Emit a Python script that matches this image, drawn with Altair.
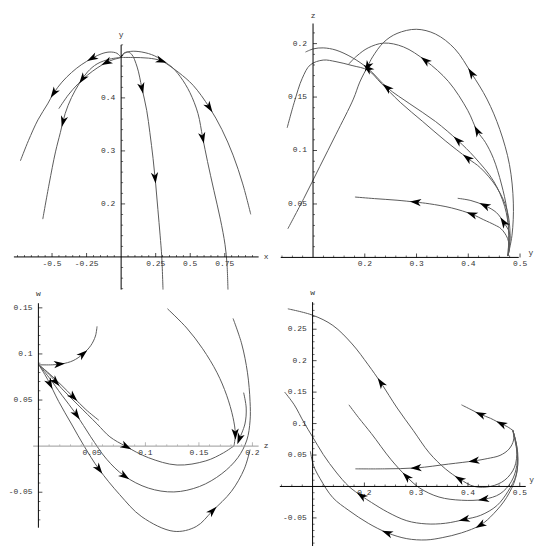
import math
import altair as alt
import pandas as pd

# ---------------- Panel 1 : x (horizontal) vs y (vertical) ----------------
p1_c1_x = [0, -0.030, -0.081, -0.139, -0.208, -0.289, -0.359, -0.428, -0.486, -0.532, -0.602, -0.671, -0.729]
p1_c1_y = [0.4762, 0.4841, 0.4865, 0.4835, 0.4750, 0.4623, 0.4478, 0.4297, 0.4098, 0.3886, 0.3585, 0.3192, 0.2812]
p1_c1_arrows = [4, 8]
p1_c2_x = [0, -0.081, -0.174, -0.243, -0.301, -0.359, -0.405, -0.440, -0.475, -0.521, -0.567]
p1_c2_y = [0.4762, 0.4732, 0.4641, 0.4490, 0.4279, 0.4007, 0.3705, 0.3343, 0.2981, 0.2377, 0.1713]
p1_c2_arrows = [3.6, 6.4]
p1_c3_x = [0, -0.058, -0.104, -0.174, -0.243, -0.313, -0.382, -0.451]
p1_c3_y = [0.4762, 0.4720, 0.4671, 0.4563, 0.4430, 0.4261, 0.4056, 0.3796]
p1_c3_arrows = [2]
p1_c4_x = [0, 0.016, 0.046, 0.076, 0.116, 0.150, 0.185, 0.208, 0.231, 0.250, 0.266, 0.282, 0.294, 0.303]
p1_c4_y = [0.4762, 0.4835, 0.4865, 0.4822, 0.4581, 0.4188, 0.3766, 0.3343, 0.2860, 0.2377, 0.1894, 0.1411, 0.1, 0.0384]
p1_c4_arrows = [5, 8.75]
p1_c5_x = [0, 0.081, 0.197, 0.289, 0.359, 0.428, 0.498, 0.556, 0.590, 0.625, 0.671, 0.718, 0.752, 0.766, 0.773]
p1_c5_y = [0.4762, 0.4762, 0.4750, 0.4702, 0.4599, 0.4400, 0.4098, 0.3705, 0.3252, 0.2800, 0.2256, 0.1713, 0.1229, 0.0867, 0.0384]
p1_c5_arrows = [3, 8]
p1_c6_x = [0, 0.023, 0.069, 0.150, 0.243, 0.324, 0.417, 0.521, 0.637, 0.729, 0.810, 0.880, 0.938]
p1_c6_y = [0.4762, 0.4841, 0.4877, 0.4865, 0.4792, 0.4653, 0.4478, 0.4237, 0.3826, 0.3403, 0.2920, 0.2377, 0.1803]
p1_c6_arrows = [8]
p1_xticks = [-0.5, -0.25, 0.25, 0.5, 0.75]
p1_xlabels = ["-0.5", "-0.25", "0.25", "0.5", "0.75"]
p1_yticks = [0.2, 0.3, 0.4]
p1_ylabels = ["0.2", "0.3", "0.4"]

# ---------------- Panel 2 : y (horizontal) vs z (vertical) ----------------
p2_c1_x = [0.4765, 0.4845, 0.4871, 0.4796, 0.4609, 0.4361, 0.4063, 0.3740, 0.3368, 0.2995, 0.2623, 0.2369, 0.2151, 0.2058, 0.1903, 0.1779, 0.1444, 0.1133, 0.0823, 0.0513]
p2_c1_y = [0.0013, 0.0208, 0.0508, 0.0867, 0.1197, 0.1481, 0.1721, 0.1951, 0.2089, 0.2134, 0.2095, 0.2014, 0.1876, 0.1789, 0.1640, 0.1481, 0.1152, 0.0852, 0.0553, 0.0268]
p2_c1_arrows = [6, 13]
p2_c2_x = [0.4765, 0.4783, 0.4746, 0.4640, 0.4485, 0.4330, 0.4175, 0.3989, 0.3616, 0.3175, 0.2747, 0.2369, 0.2065, 0.1847, 0.1692]
p2_c2_y = [0.0013, 0.0208, 0.0448, 0.0687, 0.0927, 0.1077, 0.1181, 0.1376, 0.1646, 0.1840, 0.1969, 0.2005, 0.1960, 0.1885, 0.1810]
p2_c2_arrows = [6, 9]
p2_c3_x = [0.4765, 0.4783, 0.4703, 0.4485, 0.4113, 0.3803, 0.3368, 0.2872, 0.2437, 0.2065, 0.1754, 0.1444, 0.1196, 0.1009, 0.0854]
p2_c3_y = [0.0013, 0.0238, 0.0478, 0.0717, 0.0942, 0.1092, 0.1271, 0.1436, 0.1586, 0.1766, 0.1870, 0.1939, 0.1960, 0.1951, 0.1921]
p2_c3_arrows = [5, 8, 9]
p2_c4_x = [0.4765, 0.4808, 0.4746, 0.4547, 0.4237, 0.3989, 0.3554, 0.3120, 0.2685, 0.2313, 0.2065, 0.1754, 0.1444, 0.1196, 0.0947, 0.0792, 0.0637, 0.0500]
p2_c4_y = [0.0013, 0.0208, 0.0448, 0.0657, 0.0837, 0.0927, 0.1092, 0.1271, 0.1451, 0.1631, 0.1750, 0.1795, 0.1831, 0.1846, 0.1801, 0.1676, 0.1451, 0.1212]
p2_c4_arrows = [5]
p2_c5_x = [0.4765, 0.4790, 0.4759, 0.4634, 0.4510, 0.4299, 0.4076, 0.3678, 0.3244, 0.2989, 0.2623, 0.2189, 0.1810]
p2_c5_y = [0.0013, 0.0073, 0.0178, 0.0268, 0.0304, 0.0352, 0.0403, 0.0463, 0.0502, 0.0517, 0.0535, 0.0550, 0.0565]
p2_c5_arrows = [6, 9]
p2_c6_x = [0.4765, 0.4802, 0.4790, 0.4684, 0.4547, 0.4324, 0.4051, 0.3796]
p2_c6_y = [0.0013, 0.0133, 0.0238, 0.0328, 0.0418, 0.0484, 0.0532, 0.0553]
p2_c6_arrows = [3, 5]
p2_xticks = [0.2, 0.3, 0.4, 0.5]
p2_xlabels = ["0.2", "0.3", "0.4", "0.5"]
p2_yticks = [0.05, 0.1, 0.15, 0.2]
p2_ylabels = ["0.05", "0.1", "0.15", "0.2"]

# ---------------- Panel 3 : z (horizontal) vs w (vertical) ----------------
p3_c1_x = [0.0004, 0.0130, 0.0220, 0.0324, 0.0414, 0.0489, 0.0533, 0.0548]
p3_c1_y = [0.0882, 0.0882, 0.0892, 0.0927, 0.0997, 0.1090, 0.1194, 0.1299]
p3_c1_arrows = [1.7, 4]
p3_c2_x = [0.0004, 0.0100, 0.0220, 0.0324, 0.0444, 0.0564]
p3_c2_y = [0.0882, 0.0788, 0.0656, 0.0535, 0.0396, 0.0281]
p3_c2_arrows = [3]
p3_c3_x = [0.0004, 0.0100, 0.0220, 0.0369, 0.0549, 0.0668, 0.0818, 0.1027, 0.1296, 0.1565, 0.1729, 0.1828]
p3_c3_y = [0.0882, 0.0778, 0.0622, 0.0448, 0.0240, 0.0101, -0.0003, -0.0125, -0.0205, -0.0160, -0.0073, 0.0003]
p3_c3_arrows = [1.5, 6]
p3_c4_x = [0.0004, 0.0100, 0.0220, 0.0354, 0.0489, 0.0638, 0.0803, 0.1027, 0.1266, 0.1505, 0.1714, 0.1864, 0.1948, 0.1978, 0.1978, 0.1954, 0.1900, 0.1819]
p3_c4_y = [0.0882, 0.0743, 0.0552, 0.0344, 0.0101, -0.0142, -0.0323, -0.0455, -0.0497, -0.0438, -0.0299, -0.0125, 0.0066, 0.0274, 0.0483, 0.0795, 0.1108, 0.1385]
p3_c4_arrows = [3, 6]
p3_c5_x = [0.0004, 0.0085, 0.0190, 0.0309, 0.0429, 0.0564, 0.0758, 0.0967, 0.1266, 0.1475, 0.1625, 0.1804, 0.1924, 0.1978]
p3_c5_y = [0.0882, 0.0726, 0.0483, 0.0240, -0.0003, -0.0247, -0.0524, -0.0767, -0.0924, -0.0872, -0.0705, -0.0490, -0.0247, -0.0038]
p3_c5_arrows = [1.2, 5, 10]
p3_c6_x = [0.1206, 0.1386, 0.1535, 0.1670, 0.1759, 0.1819, 0.1840, 0.1828]
p3_c6_y = [0.1490, 0.1281, 0.1056, 0.0795, 0.0552, 0.0309, 0.0135, 0.0003]
p3_c6_arrows = [6]
p3_c7_x = [0.1918, 0.1942, 0.1930, 0.1879]
p3_c7_y = [0.0580, 0.0413, 0.0240, 0.0083]
p3_c7_arrows = [3]
p3_xticks = [0.05, 0.1, 0.15, 0.2]
p3_xlabels = ["0.05", "0.1", "0.15", "0.2"]
p3_yticks = [-0.05, 0.05, 0.1, 0.15]
p3_ylabels = ["-0.05", "0.05", "0.1", "0.15"]

# ---------------- Panel 4 : y (horizontal) vs w (vertical) ----------------
p4_c1_x = [0.4867, 0.4756, 0.4650, 0.4433, 0.4246, 0.4060, 0.3874]
p4_c1_y = [0.0891, 0.0952, 0.0992, 0.1084, 0.1145, 0.1221, 0.1298]
p4_c1_arrows = [2, 4]
p4_c2_x = [0.4867, 0.4880, 0.4793, 0.4619, 0.4371, 0.4122, 0.3626, 0.3005, 0.2384, 0.1826]
p4_c2_y = [0.0891, 0.0738, 0.0595, 0.0494, 0.0443, 0.0407, 0.0356, 0.0295, 0.0280, 0.0280]
p4_c2_arrows = [5, 7]
p4_c3_x = [0.4867, 0.4942, 0.4942, 0.4836, 0.4619, 0.4309, 0.3874, 0.3440, 0.3067, 0.2819, 0.2508, 0.2136, 0.1888, 0.1701]
p4_c3_y = [0.0891, 0.0636, 0.0331, 0.0076, -0.0117, -0.0204, -0.0219, -0.0168, -0.0025, 0.0153, 0.0433, 0.0840, 0.1094, 0.1298]
p4_c3_arrows = [5, 9]
p4_c4_x = [0.4867, 0.4942, 0.4898, 0.4712, 0.4433, 0.4122, 0.3843, 0.3564, 0.3253, 0.2943, 0.2633, 0.2322, 0.2074, 0.1764, 0.1391, 0.1000, 0.0522]
p4_c4_y = [0.0891, 0.0585, 0.0305, 0.0102, 0.0000, 0.0000, 0.0117, 0.0280, 0.0534, 0.0891, 0.1247, 0.1644, 0.1934, 0.2265, 0.2560, 0.2723, 0.2824]
p4_c4_arrows = [6, 11]
p4_c5_x = [0.4867, 0.4960, 0.4929, 0.4774, 0.4557, 0.4246, 0.3936, 0.3564, 0.3191, 0.2819, 0.2446, 0.2136, 0.1950, 0.1701, 0.1453, 0.1205, 0.1000, 0.0832, 0.0646, 0.0460]
p4_c5_y = [0.0891, 0.0534, 0.0178, -0.0076, -0.0305, -0.0458, -0.0524, -0.0585, -0.0595, -0.0545, -0.0407, -0.0254, -0.0153, 0.0000, 0.0229, 0.0509, 0.0789, 0.1018, 0.1298, 0.1501]
p4_c5_arrows = [6, 12]
p4_c6_x = [0.4867, 0.4960, 0.4917, 0.4743, 0.4495, 0.4246, 0.3874, 0.3502, 0.3191, 0.2819, 0.2446, 0.2074, 0.1701, 0.1391, 0.1143, 0.1019, 0.0957]
p4_c6_y = [0.0891, 0.0433, 0.0127, -0.0178, -0.0433, -0.0611, -0.0738, -0.0814, -0.0850, -0.0830, -0.0738, -0.0585, -0.0382, -0.0178, 0.0127, 0.0331, 0.0560]
p4_c6_arrows = [5, 10]
p4_xticks = [0.2, 0.3, 0.4, 0.5]
p4_xlabels = ["0.2", "0.3", "0.4", "0.5"]
p4_yticks = [-0.05, 0.05, 0.1, 0.15, 0.2, 0.25]
p4_ylabels = ["-0.05", "0.05", "0.1", "0.15", "0.2", "0.25"]

# ---------------- layout ----------------
W_L, W_R, H_T, H_B = 264, 265, 272, 270
FONT = "Liberation Mono"
LINE = "#5a5a5a"
ARROW_PATH = "M0,-1L0.6,0.85L0,0.35L-0.6,0.85Z"


def curves_frame(curves):
    rows = []
    for name, xs, ys, _ in curves:
        for i, (a, b) in enumerate(zip(xs, ys)):
            rows.append({"curve": name, "i": i, "x": a, "y": b})
    return pd.DataFrame(rows)


def arrows_frame(curves, dx_dom, dy_dom, W, H):
    kx = W / (dx_dom[1] - dx_dom[0])
    ky = H / (dy_dom[1] - dy_dom[0])
    rows = []
    for name, xs, ys, marks in curves:
        n = len(xs)
        for f in marks:
            i0 = int(math.floor(f))
            t = f - i0
            if i0 >= n - 1:
                i0, t = n - 2, 1.0
            px = xs[i0] + t * (xs[i0 + 1] - xs[i0])
            py = ys[i0] + t * (ys[i0 + 1] - ys[i0])
            if t == 0 and i0 > 0:
                dx, dy = xs[i0 + 1] - xs[i0 - 1], ys[i0 + 1] - ys[i0 - 1]
            else:
                dx, dy = xs[i0 + 1] - xs[i0], ys[i0 + 1] - ys[i0]
            ang = math.degrees(math.atan2(dx * kx, dy * ky)) % 360
            rows.append({"x": px, "y": py, "angle": ang})
    return pd.DataFrame(rows)


def frange(a, b, step):
    out = []
    k = 0
    while a + k * step <= b + 1e-9:
        out.append(round(a + k * step, 6))
        k += 1
    return out


def panel(curves, dom_x, dom_y, W, H, hx, hy, vx, vy, xt, xl, yt, yl,
          xminor, yminor, names, hcolor="black", vcolor="black"):
    sx = alt.Scale(domain=dom_x, nice=False, zero=False)
    sy = alt.Scale(domain=dom_y, nice=False, zero=False)

    def X(f):
        return alt.X(f, type="quantitative", scale=sx, axis=None)

    def Y(f):
        return alt.Y(f, type="quantitative", scale=sy, axis=None)

    lines = alt.Chart(curves_frame(curves)).mark_line(
        interpolate="catmull-rom", strokeWidth=1, color=LINE
    ).encode(x=X("x"), y=Y("y"), detail="curve:N", order="i:Q")

    arrows = alt.Chart(arrows_frame(curves, dom_x, dom_y, W, H)).mark_point(
        shape=ARROW_PATH, filled=True, size=150,
        color="black", opacity=1, strokeWidth=0
    ).encode(x=X("x"), y=Y("y"), angle=alt.Angle("angle:Q", scale=None))

    haxis = alt.Chart(pd.DataFrame([{"x": hx[0], "x2": hx[1], "y": hy}])).mark_rule(
        color=hcolor, strokeWidth=1).encode(x=X("x"), x2="x2:Q", y=Y("y"))
    vaxis = alt.Chart(pd.DataFrame([{"x": vx, "y": vy[0], "y2": vy[1]}])).mark_rule(
        color=vcolor, strokeWidth=1).encode(x=X("x"), y=Y("y"), y2="y2:Q")

    xmaj = pd.DataFrame({"v": xt, "pos": hy, "label": xl})
    ymaj = pd.DataFrame({"v": yt, "pos": vx, "label": yl})
    xmin_df = pd.DataFrame({"v": [v for v in xminor if all(abs(v - m) > 1e-6 for m in xt + [vx])], "pos": hy})
    ymin_df = pd.DataFrame({"v": [v for v in yminor if all(abs(v - m) > 1e-6 for m in yt + [hy])], "pos": vx})

    xticks = alt.Chart(xmaj).mark_tick(orient="vertical", size=4, thickness=1, yOffset=-2,
                                       color=hcolor).encode(x=X("v"), y=Y("pos"))
    yticks = alt.Chart(ymaj).mark_tick(orient="horizontal", size=4, thickness=1, xOffset=2,
                                       color=vcolor).encode(x=X("pos"), y=Y("v"))
    xmticks = alt.Chart(xmin_df).mark_tick(orient="vertical", size=2, thickness=0.8, yOffset=-1,
                                           color=hcolor).encode(x=X("v"), y=Y("pos"))
    ymticks = alt.Chart(ymin_df).mark_tick(orient="horizontal", size=2, thickness=0.8, xOffset=1,
                                           color=vcolor).encode(x=X("pos"), y=Y("v"))
    xlab = alt.Chart(xmaj).mark_text(font=FONT, fontSize=8, dy=7, align="center", baseline="middle",
                                     color="#333").encode(x=X("v"), y=Y("pos"), text="label:N")
    ylab = alt.Chart(ymaj).mark_text(font=FONT, fontSize=8, dx=-6, align="right", baseline="middle",
                                     color="#333").encode(x=X("pos"), y=Y("v"), text="label:N")
    name_df = pd.DataFrame(names, columns=["x", "y", "t"])
    nlab = alt.Chart(name_df).mark_text(font=FONT, fontSize=8, align="center", baseline="middle",
                                        color="#333").encode(x=X("x"), y=Y("y"), text="t:N")
    return alt.layer(lines, haxis, vaxis, xmticks, ymticks, xticks, yticks, xlab, ylab, nlab,
                     arrows).properties(width=W, height=H)


p1 = panel(
    [("a", p1_c1_x, p1_c1_y, p1_c1_arrows), ("b", p1_c2_x, p1_c2_y, p1_c2_arrows),
     ("c", p1_c3_x, p1_c3_y, p1_c3_arrows), ("d", p1_c4_x, p1_c4_y, p1_c4_arrows),
     ("e", p1_c5_x, p1_c5_y, p1_c5_arrows), ("f", p1_c6_x, p1_c6_y, p1_c6_arrows)],
    [-0.7757, 1.1132], [0.0565, 0.5638], W_L, H_T,
    hx=[-0.776, 0.995], hy=0.1, vx=0.0, vy=[0.0384, 0.5],
    xt=p1_xticks, xl=p1_xlabels, yt=p1_yticks, yl=p1_ylabels,
    xminor=frange(-0.75, 0.95, 0.05), yminor=frange(0.04, 0.5, 0.02),
    names=[(1.05, 0.1, "x"), (0.0, 0.518, "y")])

p2 = panel(
    [("a", p2_c1_x, p2_c1_y, p2_c1_arrows), ("b", p2_c2_x, p2_c2_y, p2_c2_arrows),
     ("c", p2_c3_x, p2_c3_y, p2_c3_arrows), ("d", p2_c4_x, p2_c4_y, p2_c4_arrows),
     ("e", p2_c5_x, p2_c5_y, p2_c5_arrows), ("f", p2_c6_x, p2_c6_y, p2_c6_arrows)],
    [0.02644, 0.5328], [-0.02111, 0.23046], W_R, H_T,
    hx=[0.0376, 0.4976], hy=0.0, vx=0.1, vy=[0.0, 0.2188],
    xt=p2_xticks, xl=p2_xlabels, yt=p2_yticks, yl=p2_ylabels,
    xminor=frange(0.04, 0.5, 0.02), yminor=frange(0.01, 0.21, 0.01),
    names=[(0.521, 0.004, "y"), (0.1, 0.226, "z")])

p3 = panel(
    [("a", p3_c1_x, p3_c1_y, p3_c1_arrows), ("b", p3_c2_x, p3_c2_y, p3_c2_arrows),
     ("c", p3_c3_x, p3_c3_y, p3_c3_arrows), ("d", p3_c4_x, p3_c4_y, p3_c4_arrows),
     ("e", p3_c5_x, p3_c5_y, p3_c5_arrows), ("f", p3_c6_x, p3_c6_y, p3_c6_arrows),
     ("g", p3_c7_x, p3_c7_y, p3_c7_arrows)],
    [-0.02287, 0.22108], [-0.10938, 0.18021], W_L, H_B,
    hx=[-0.0049, 0.2058], hy=0.0, vx=0.0, vy=[-0.0885, 0.155],
    xt=p3_xticks, xl=p3_xlabels, yt=p3_yticks, yl=p3_ylabels,
    xminor=frange(0.01, 0.2, 0.01), yminor=frange(-0.08, 0.15, 0.01),
    names=[(0.2129, 0.0, "z"), (0.0, 0.1646, "w")], hcolor="#999")

p4 = panel(
    [("a", p4_c1_x, p4_c1_y, p4_c1_arrows), ("b", p4_c2_x, p4_c2_y, p4_c2_arrows),
     ("c", p4_c3_x, p4_c3_y, p4_c3_arrows), ("d", p4_c4_x, p4_c4_y, p4_c4_arrows),
     ("e", p4_c5_x, p4_c5_y, p4_c5_arrows), ("f", p4_c6_x, p4_c6_y, p4_c6_arrows)],
    [0.02737, 0.53324], [-0.09618, 0.32824], W_R, H_B,
    hx=[0.0367, 0.5115], hy=0.0, vx=0.1, vy=[-0.0947, 0.293],
    xt=p4_xticks, xl=p4_xlabels, yt=p4_yticks, yl=p4_ylabels,
    xminor=frange(0.04, 0.5, 0.02), yminor=frange(-0.09, 0.29, 0.01),
    names=[(0.523, 0.0107, "y"), (0.1, 0.307, "w")])

chart = alt.concat(p1, p2, p3, p4, columns=2, spacing=0, bounds="flush").properties(
    padding=0, background="white"
).configure_view(stroke=None, strokeWidth=0)

chart.save("out.html", embed_options={"renderer": "svg", "actions": False})
